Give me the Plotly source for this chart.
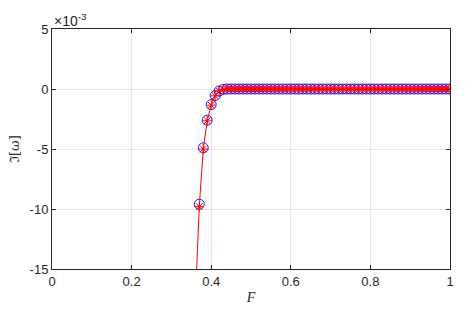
import plotly.graph_objects as go

# F grid (0.36 .. 1.00, step 0.01)
f_vals = [
    0.36, 0.37, 0.38, 0.39, 0.40, 0.41, 0.42, 0.43, 0.44, 0.45,
    0.46, 0.47, 0.48, 0.49, 0.50, 0.51, 0.52, 0.53, 0.54, 0.55,
    0.56, 0.57, 0.58, 0.59, 0.60, 0.61, 0.62, 0.63, 0.64, 0.65,
    0.66, 0.67, 0.68, 0.69, 0.70, 0.71, 0.72, 0.73, 0.74, 0.75,
    0.76, 0.77, 0.78, 0.79, 0.80, 0.81, 0.82, 0.83, 0.84, 0.85,
    0.86, 0.87, 0.88, 0.89, 0.90, 0.91, 0.92, 0.93, 0.94, 0.95,
    0.96, 0.97, 0.98, 0.99, 1.00,
]

# imaginary part of omega (x1e-3), two methods
im_circle = [
    -17.6, -9.6, -4.9, -2.6, -1.3, -0.55, -0.17, -0.03, 0.0, 0.0,
    0.0, 0.0, 0.0, 0.0, 0.0, 0.0, 0.0, 0.0, 0.0, 0.0,
    0.0, 0.0, 0.0, 0.0, 0.0, 0.0, 0.0, 0.0, 0.0, 0.0,
    0.0, 0.0, 0.0, 0.0, 0.0, 0.0, 0.0, 0.0, 0.0, 0.0,
    0.0, 0.0, 0.0, 0.0, 0.0, 0.0, 0.0, 0.0, 0.0, 0.0,
    0.0, 0.0, 0.0, 0.0, 0.0, 0.0, 0.0, 0.0, 0.0, 0.0,
    0.0, 0.0, 0.0, 0.0, 0.0,
]
im_star = [
    -17.8, -9.8, -5.0, -2.65, -1.35, -0.57, -0.18, -0.03, 0.0, 0.0,
    0.0, 0.0, 0.0, 0.0, 0.0, 0.0, 0.0, 0.0, 0.0, 0.0,
    0.0, 0.0, 0.0, 0.0, 0.0, 0.0, 0.0, 0.0, 0.0, 0.0,
    0.0, 0.0, 0.0, 0.0, 0.0, 0.0, 0.0, 0.0, 0.0, 0.0,
    0.0, 0.0, 0.0, 0.0, 0.0, 0.0, 0.0, 0.0, 0.0, 0.0,
    0.0, 0.0, 0.0, 0.0, 0.0, 0.0, 0.0, 0.0, 0.0, 0.0,
    0.0, 0.0, 0.0, 0.0, 0.0,
]

x_ticks = [0, 0.2, 0.4, 0.6, 0.8, 1]
x_labels = ["0", "0.2", "0.4", "0.6", "0.8", "1"]
y_ticks = [5, 0, -5, -10, -15]
y_labels = ["5", "0", "-5", "-10", "-15"]

axis_col = "#262626"
grid_col = "#e6e6e6"

fig = go.Figure()

fig.add_trace(go.Scatter(
    x=f_vals, y=im_circle, mode="markers",
    marker=dict(symbol="circle-open", size=10, color="#0000ff", line=dict(width=0.9)),
    showlegend=False,
))
fig.add_trace(go.Scatter(
    x=f_vals, y=im_star, mode="lines+markers",
    line=dict(color="#ff0000", width=1),
    marker=dict(symbol="asterisk-open", size=8, color="#ff0000", line=dict(width=1, color="#ff0000")),
    showlegend=False,
))

axis_common = dict(
    showline=True, linecolor=axis_col, linewidth=1, mirror="allticks",
    ticks="inside", ticklen=4, tickcolor=axis_col,
    showgrid=True, gridcolor=grid_col, gridwidth=1, zeroline=False,
    tickfont=dict(family="Liberation Sans, Arial", size=13, color=axis_col),
)

fig.update_xaxes(
    range=[0, 1], tickvals=x_ticks, ticktext=x_labels,
    title=dict(text="<i>F</i>", font=dict(family="Liberation Serif, Times New Roman", size=14, color=axis_col), standoff=4),
    **axis_common,
)
fig.update_yaxes(
    range=[-15, 5], tickvals=y_ticks, ticktext=y_labels, automargin=False,
    **axis_common,
)

# y-axis label placed as a rotated annotation
fig.add_annotation(
    x=0, y=0.5, xref="paper", yref="paper", xanchor="center", yanchor="middle",
    text="ℑ[ω]", textangle=-90, showarrow=False, xshift=-38,
    font=dict(family="DejaVu Serif, Liberation Serif", size=13, color=axis_col),
)

fig.add_annotation(
    x=0, y=1, xref="paper", yref="paper", xanchor="left", yanchor="bottom",
    text="×10<sup>-3</sup>", showarrow=False, yshift=-2,
    font=dict(family="Liberation Sans, Arial", size=14, color=axis_col),
)

# page has an 8px body margin, so the figure is shrunk by that amount
fig.update_layout(
    width=464, height=308,
    margin=dict(l=44, r=22, t=21, b=47),
    paper_bgcolor="white", plot_bgcolor="white",
)

fig.write_html("out.html")
